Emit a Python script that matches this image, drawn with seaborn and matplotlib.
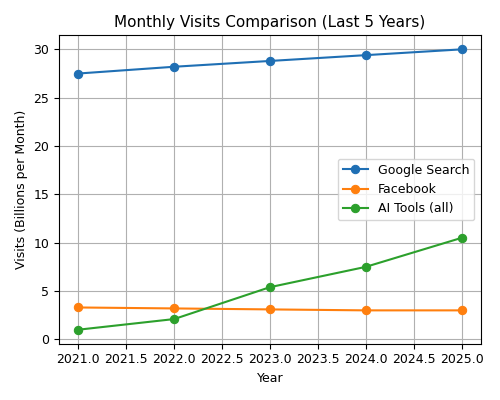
import matplotlib
matplotlib.use("Agg")
import matplotlib.pyplot as plt
import seaborn as sns
import pandas as pd

years = [2021, 2022, 2023, 2024, 2025]
google = [27.5, 28.2, 28.8, 29.4, 30.0]
facebook = [3.3, 3.2, 3.1, 3.0, 3.0]
ai_tools = [1.0, 2.1, 5.4, 7.5, 10.5]
series_names = ["Google Search", "Facebook", "AI Tools (all)"]

df = pd.DataFrame({"Year": years * 3,
                   "Visits": google + facebook + ai_tools,
                   "Series": sum([[n] * 5 for n in series_names], [])})

fig, ax = plt.subplots(figsize=(5, 4), dpi=100)
colors = ["#1f6fb4", "#ff7f0e", "#2ca02c"]
for name, c in zip(series_names, colors):
    sub = df[df.Series == name]
    sns.lineplot(data=sub, x="Year", y="Visits", ax=ax, color=c, marker="o",
                 markeredgecolor=c, markersize=6, label=name)
ax.set_title("Monthly Visits Comparison (Last 5 Years)", fontsize=11)
ax.set_xlabel("Year", fontsize=9)
ax.set_ylabel("Visits (Billions per Month)", fontsize=9)
ax.tick_params(labelsize=9)
ax.grid(True)
ax.legend(loc="center right", fontsize=9)
fig.tight_layout()
fig.savefig("out.png")
